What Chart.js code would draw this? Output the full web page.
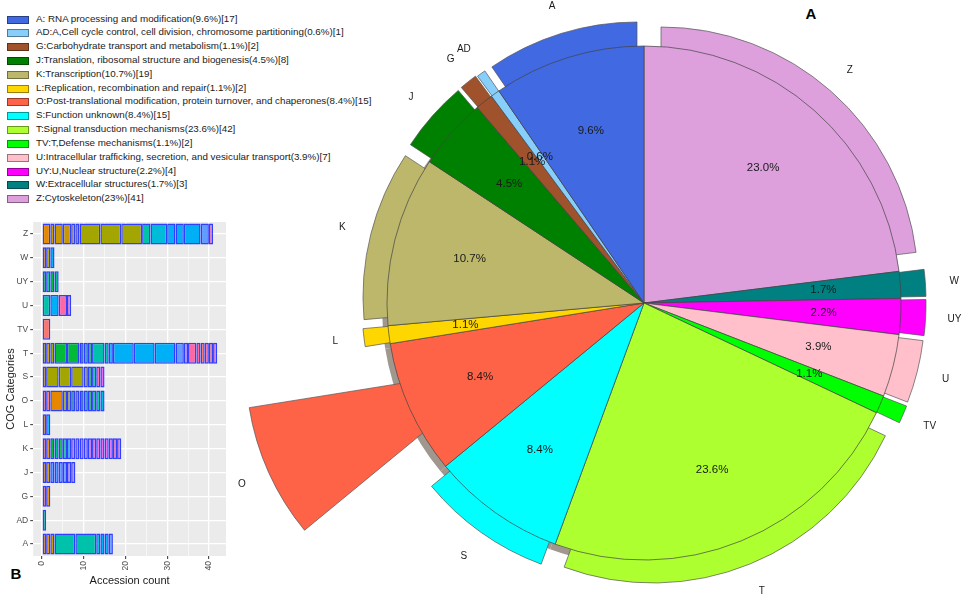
<!DOCTYPE html>
<html>
<head>
<meta charset="utf-8">
<title>COG categories</title>
<script src="https://cdn.jsdelivr.net/npm/chart.js@4.4.1/dist/chart.umd.min.js"></script>
<style>
  html, body {
    margin: 0;
    padding: 0;
    width: 970px;
    height: 594px;
    overflow: hidden;
    background: #fff;
    position: relative;
    font-family: "Liberation Sans", Arial, sans-serif;
  }
  canvas { position: absolute; }
  .legend_box {
    position: absolute;
    left: 7px;
    width: 20px;
    height: 6px;
    border: 0.7px solid rgba(0, 0, 0, 0.4);
  }
  .legend_text {
    position: absolute;
    left: 36px;
    font-size: 9.8px;
    line-height: 14px;
    color: #222;
    white-space: nowrap;
  }
  .panel_tag {
    position: absolute;
    font-weight: bold;
    font-size: 15px;
    color: #000;
    transform: translate(-50%, -50%);
  }
</style>
</head>
<body>
<div id="legend"></div>
<div class="panel_tag" style="left:811px; top:13px;">A</div>
<div class="panel_tag" style="left:16px; top:573px;">B</div>
<canvas id="barChart" width="235" height="382" style="left:0; top:212px; width:235px; height:382px;"></canvas>
<div id="pieStack"></div>
<script>
"use strict"

// ---------------- data ----------------
const categories = ["A", "AD", "G", "J", "K", "L", "O", "S", "T", "TV", "U", "UY", "W", "Z"];
const counts = [17, 1, 2, 8, 19, 2, 15, 15, 42, 2, 7, 4, 3, 41];
const legendLabels = [
  "A: RNA processing and modification(9.6%)[17]",
  "AD:A,Cell cycle control, cell division, chromosome partitioning(0.6%)[1]",
  "G:Carbohydrate transport and metabolism(1.1%)[2]",
  "J:Translation, ribosomal structure and biogenesis(4.5%)[8]",
  "K:Transcription(10.7%)[19]",
  "L:Replication, recombination and repair(1.1%)[2]",
  "O:Post-translational modification, protein turnover, and chaperones(8.4%)[15]",
  "S:Function unknown(8.4%)[15]",
  "T:Signal transduction mechanisms(23.6%)[42]",
  "TV:T,Defense mechanisms(1.1%)[2]",
  "U:Intracellular trafficking, secretion, and vesicular transport(3.9%)[7]",
  "UY:U,Nuclear structure(2.2%)[4]",
  "W:Extracellular structures(1.7%)[3]",
  "Z:Cytoskeleton(23%)[41]"
];
// pie runs clockwise from 12 o'clock
const pieOrder = ["Z", "W", "UY", "U", "TV", "T", "S", "O", "L", "K", "J", "G", "AD", "A"];

// bar segments (accession counts per fill group), left to right per category
const segA  = [1, 1, 1, 5, 5, 1, 1, 1, 1];
const segAD = [1];
const segG  = [1, 1];
const segJ  = [1, 1, 1, 1, 1, 1, 1, 1];
const segK  = [1, 1, 1, 1, 1, 1, 1, 1, 1, 1, 1, 1, 1, 1, 1, 1, 1, 1, 1];
const segL  = [1, 1];
const segO  = [1, 1, 3, 1, 1, 1, 1, 1, 1, 1, 1, 1, 1];
const segS  = [1, 3, 3, 3, 1, 1, 1, 1, 1];
const segT  = [1, 1, 1, 3, 3, 1, 1, 1, 3, 1, 1, 5, 5, 5, 2, 1, 2, 1, 1, 1, 1, 1];
const segTV = [2];
const segU  = [2, 2, 2, 1];
const segUY = [1, 1, 1, 1];
const segW  = [1, 1, 1];
const segZ  = [2, 1, 2, 2, 1, 1, 5, 5, 5, 2, 4, 2, 2, 4, 2, 1];

// fill group of each segment (index into hue palette)
const fillA  = [1, 1, 2, 6, 6, 7, 8, 8, 9];
const fillAD = [5];
const fillG  = [0, 1];
const fillJ  = [1, 2, 9, 9, 9, 9, 10, 10];
const fillK  = [0, 1, 4, 5, 4, 5, 7, 11, 11, 11, 10, 11, 11, 11, 11, 11, 11, 12, 12];
const fillL  = [1, 8];
const fillO  = [0, 0, 1, 3, 3, 4, 3, 4, 5, 4, 5, 6, 7];
const fillS  = [2, 3, 3, 3, 3, 4, 6, 12, 11];
const fillT  = [3, 2, 3, 4, 4, 4, 5, 4, 6, 6, 8, 8, 8, 8, 9, 10, 12, 12, 0, 12, 0, 12];
const fillTV = [0];
const fillU  = [6, 8, 12, 12];
const fillUY = [4, 5, 4, 5];
const fillW  = [1, 3, 8];
const fillZ  = [1, 2, 2, 2, 2, 2, 3, 3, 3, 6, 7, 8, 8, 8, 9, 12];

const xTicks = [0, 10, 20, 30, 40];

// ---------------- styles ----------------
const sliceColors = {
  A: "#4169E1", AD: "#87CEFA", G: "#A0522D", J: "#008000", K: "#BDB76B",
  L: "#FFD700", O: "#FF6347", S: "#00FFFF", T: "#ADFF2F", TV: "#00FF00",
  U: "#FFC0CB", UY: "#FF00FF", W: "#008080", Z: "#DDA0DD"
};
const hue = ["#F8766D", "#E58700", "#C99800", "#A3A500", "#00BA38", "#00C08B",
  "#00C1A9", "#00BCD8", "#00B0F6", "#619CFF", "#B983FF", "#E76BF3", "#FF67A4"];
const explodeDefault = 25;
const explodeBig = { O: 155 };

const PIE_CX = 644, PIE_CY = 303, PIE_R = 257, PIE_BOX = 900;
const FONT = "'Liberation Sans', Arial, sans-serif";

Chart.defaults.font.family = FONT;

// ---------------- legend ----------------
const legend = document.querySelector("#legend");
legendLabels.forEach((text, i) => {
  const cy = 19 + 13.82 * i;
  const box = document.createElement("div");
  box.className = "legend_box";
  box.style.top = (cy - 3.5) + "px";
  box.style.background = sliceColors[categories[i]];
  legend.appendChild(box);
  const label = document.createElement("div");
  label.className = "legend_text";
  label.style.top = (cy - 7.5) + "px";
  label.textContent = text;
  legend.appendChild(label);
});

// ---------------- bar chart (B) ----------------
const barSegs = [segA, segAD, segG, segJ, segK, segL, segO, segS, segT, segTV, segU, segUY, segW, segZ];
const barFills = [fillA, fillAD, fillG, fillJ, fillK, fillL, fillO, fillS, fillT, fillTV, fillU, fillUY, fillW, fillZ];
const maxSegs = Math.max(...barSegs.map(s => s.length));

const barDatasets = [];
for (let k = 0; k < maxSegs; k++) {
  barDatasets.push({
    data: barSegs.map(s => (s[k] === undefined ? null : s[k])),
    backgroundColor: barFills.map(f => (f[k] === undefined ? "rgba(0,0,0,0)" : hue[f[k]])),
    borderColor: "#2f3fff",
    borderWidth: 1.5,
    borderSkipped: false,
    barPercentage: 0.88,
    categoryPercentage: 1
  });
}

const panelBg = {
  id: "panelBg",
  beforeDraw(chart) {
    const { ctx, chartArea } = chart;
    ctx.save();
    ctx.fillStyle = "#EBEBEB";
    ctx.fillRect(chartArea.left, chartArea.top, chartArea.right - chartArea.left, chartArea.bottom - chartArea.top);
    ctx.restore();
  }
};

new Chart(document.querySelector("#barChart"), {
  type: "bar",
  data: { labels: categories, datasets: barDatasets },
  options: {
    indexAxis: "y",
    responsive: false,
    animation: false,
    events: [],
    layout: { padding: { left: 0, right: 9, top: 10, bottom: 0 } },
    plugins: { legend: { display: false }, tooltip: { enabled: false } },
    scales: {
      x: {
        stacked: true,
        min: -2.1,
        max: 44.1,
        afterBuildTicks: (s) => {
          s.ticks = [];
          for (let v = 0; v <= 40; v += 5) s.ticks.push({ value: v });
        },
        ticks: {
          autoSkip: false,
          minRotation: 90,
          maxRotation: 90,
          padding: 2,
          color: "#4d4d4d",
          font: { size: 8.5 },
          callback: (v) => (xTicks.includes(v) ? String(v) : "")
        },
        grid: {
          color: "#ffffff",
          lineWidth: (c) => (c.tick && xTicks.includes(c.tick.value) ? 1.3 : 0.6),
          tickLength: 3,
          tickWidth: 1,
          tickColor: (c) => (c.tick && xTicks.includes(c.tick.value) ? "#333" : "rgba(0,0,0,0)")
        },
        border: { display: false },
        title: {
          display: true,
          text: "Accession count",
          color: "#1a1a1a",
          font: { size: 11 },
          padding: { top: 2, bottom: 6 }
        },
        afterFit: (s) => { s.height = 38; }
      },
      y: {
        stacked: true,
        reverse: true,
        ticks: { color: "#4d4d4d", font: { size: 8.5 }, padding: 2 },
        grid: {
          offset: false,
          color: "#ffffff",
          lineWidth: 1.3,
          tickLength: 3,
          tickWidth: 1,
          tickColor: "#333"
        },
        border: { display: false },
        title: {
          display: true,
          text: "COG Categories",
          color: "#1a1a1a",
          font: { size: 11 },
          padding: { top: 4, bottom: 4 }
        },
        afterFit: (s) => { s.width = 33.2; }
      }
    }
  },
  plugins: [panelBg]
});

// ---------------- pie chart (A) ----------------
const pieCounts = pieOrder.map(c => counts[categories.indexOf(c)]);
const pieTotal = pieCounts.reduce((a, b) => a + b, 0);
const explodeOf = (c) => (explodeBig[c] !== undefined ? explodeBig[c] : explodeDefault);
const pctText = (i) => (pieCounts[i] / pieTotal * 100).toFixed(1) + "%";

const pieStack = document.querySelector("#pieStack");
const makePieCanvas = (dx, dy) => {
  const cv = document.createElement("canvas");
  cv.width = PIE_BOX;
  cv.height = PIE_BOX;
  cv.style.width = PIE_BOX + "px";
  cv.style.height = PIE_BOX + "px";
  cv.style.left = (PIE_CX - PIE_BOX / 2 + dx) + "px";
  cv.style.top = (PIE_CY - PIE_BOX / 2 + dy) + "px";
  pieStack.appendChild(cv);
  return cv;
};

const pieBase = {
  responsive: false,
  animation: false,
  events: [],
  layout: { padding: 0 },
  plugins: { legend: { display: false }, tooltip: { enabled: false } }
};

// drop shadow under the pie
new Chart(makePieCanvas(-5, 5), {
  type: "pie",
  data: {
    labels: pieOrder,
    datasets: [{ data: pieCounts, radius: PIE_R, backgroundColor: "#a0978f", borderWidth: 0 }]
  },
  options: pieBase
});

// exploded pieces, one canvas each, shifted out along the slice bisector
let cum = 0;
pieOrder.forEach((cat, i) => {
  const mid = (cum + pieCounts[i] / 2) / pieTotal * 2 * Math.PI;
  cum += pieCounts[i];
  const d = explodeOf(cat);
  new Chart(makePieCanvas(d * Math.sin(mid), -d * Math.cos(mid)), {
    type: "pie",
    data: {
      labels: pieOrder,
      datasets: [{
        data: pieCounts,
        radius: PIE_R,
        backgroundColor: (c) => (c.dataIndex === i ? sliceColors[cat] : "rgba(0,0,0,0)"),
        borderColor: "#555",
        borderWidth: (c) => (c.dataIndex === i ? 0.7 : 0)
      }]
    },
    options: pieBase
  });
});

const pieLabels = {
  id: "pieLabels",
  afterDatasetsDraw(chart) {
    const ctx = chart.ctx;
    const arcs = chart.getDatasetMeta(0).data;
    ctx.save();
    ctx.fillStyle = "#1a1a1a";
    ctx.textAlign = "center";
    ctx.textBaseline = "middle";
    arcs.forEach((arc, i) => {
      const mid = (arc.startAngle + arc.endAngle) / 2;
      const r = arc.outerRadius;
      ctx.font = "11.5px " + FONT;
      ctx.fillText(pctText(i), arc.x + Math.cos(mid) * r * 0.7, arc.y + Math.sin(mid) * r * 0.7);
      const lr = r + explodeOf(pieOrder[i]) + 29;
      ctx.font = "10px " + FONT;
      ctx.fillText(pieOrder[i], arc.x + Math.cos(mid) * lr, arc.y + Math.sin(mid) * lr);
    });
    ctx.restore();
  }
};

// main pie on top
new Chart(makePieCanvas(0, 0), {
  type: "pie",
  data: {
    labels: pieOrder,
    datasets: [{
      data: pieCounts,
      radius: PIE_R,
      backgroundColor: pieOrder.map(c => sliceColors[c]),
      borderColor: "#444",
      borderWidth: 0.7
    }]
  },
  options: pieBase,
  plugins: [pieLabels]
});
</script>
</body>
</html>
